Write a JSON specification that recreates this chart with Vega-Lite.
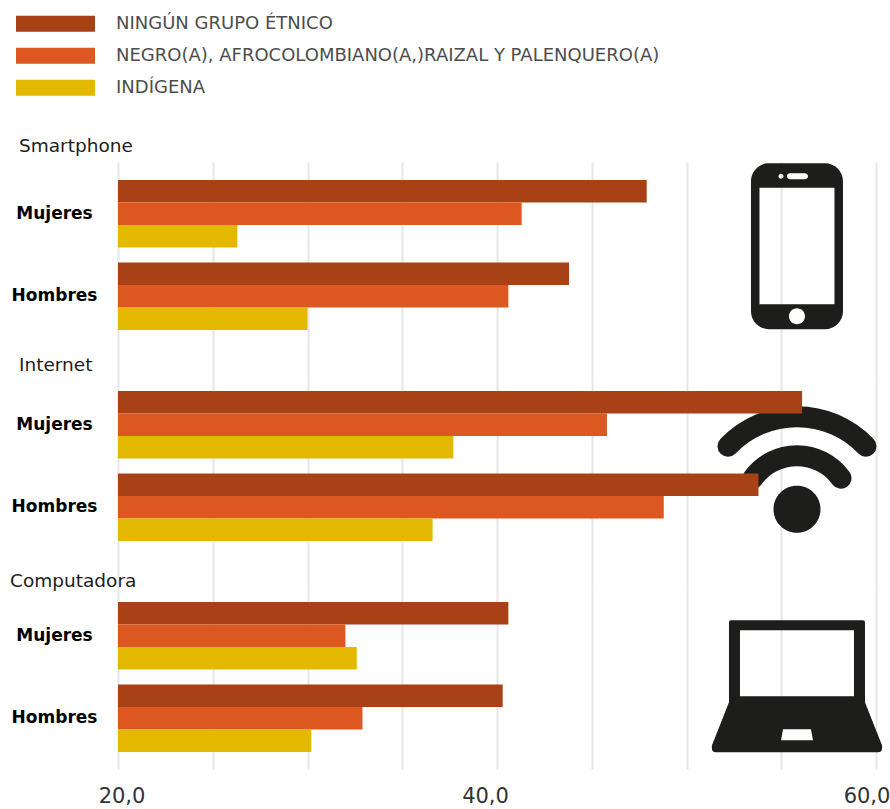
{
"$schema":"https://vega.github.io/schema/vega-lite/v6.json",
"background":"white",
"padding":{"left":10,"top":8,"right":0,"bottom":0},
"bounds":"flush",
"spacing":0,
"data":{"values":[
{"tecnologia":"Smartphone","sexo":"Mujeres","etnia":"NINGÚN GRUPO ÉTNICO","valor":47.9},
{"tecnologia":"Smartphone","sexo":"Mujeres","etnia":"NEGRO(A), AFROCOLOMBIANO(A,)RAIZAL Y PALENQUERO(A)","valor":41.3},
{"tecnologia":"Smartphone","sexo":"Mujeres","etnia":"INDÍGENA","valor":26.3},
{"tecnologia":"Smartphone","sexo":"Hombres","etnia":"NINGÚN GRUPO ÉTNICO","valor":43.8},
{"tecnologia":"Smartphone","sexo":"Hombres","etnia":"NEGRO(A), AFROCOLOMBIANO(A,)RAIZAL Y PALENQUERO(A)","valor":40.6},
{"tecnologia":"Smartphone","sexo":"Hombres","etnia":"INDÍGENA","valor":30.0},
{"tecnologia":"Internet","sexo":"Mujeres","etnia":"NINGÚN GRUPO ÉTNICO","valor":56.1},
{"tecnologia":"Internet","sexo":"Mujeres","etnia":"NEGRO(A), AFROCOLOMBIANO(A,)RAIZAL Y PALENQUERO(A)","valor":45.8},
{"tecnologia":"Internet","sexo":"Mujeres","etnia":"INDÍGENA","valor":37.7},
{"tecnologia":"Internet","sexo":"Hombres","etnia":"NINGÚN GRUPO ÉTNICO","valor":53.8},
{"tecnologia":"Internet","sexo":"Hombres","etnia":"NEGRO(A), AFROCOLOMBIANO(A,)RAIZAL Y PALENQUERO(A)","valor":48.8},
{"tecnologia":"Internet","sexo":"Hombres","etnia":"INDÍGENA","valor":36.6},
{"tecnologia":"Computadora","sexo":"Mujeres","etnia":"NINGÚN GRUPO ÉTNICO","valor":40.6},
{"tecnologia":"Computadora","sexo":"Mujeres","etnia":"NEGRO(A), AFROCOLOMBIANO(A,)RAIZAL Y PALENQUERO(A)","valor":32.0},
{"tecnologia":"Computadora","sexo":"Mujeres","etnia":"INDÍGENA","valor":32.6},
{"tecnologia":"Computadora","sexo":"Hombres","etnia":"NINGÚN GRUPO ÉTNICO","valor":40.3},
{"tecnologia":"Computadora","sexo":"Hombres","etnia":"NEGRO(A), AFROCOLOMBIANO(A,)RAIZAL Y PALENQUERO(A)","valor":32.9},
{"tecnologia":"Computadora","sexo":"Hombres","etnia":"INDÍGENA","valor":30.2}
]},
"config":{
"view":{"stroke":null},
"title":{"font":"DejaVu Sans","fontSize":18.5,"fontWeight":"normal","color":"#1d1d1b","anchor":"start","frame":"group","baseline":"bottom"},
"axisY":{"title":null,"domain":false,"ticks":false,"grid":false,"labelAlign":"center","labelPadding":64,"labelFont":"DejaVu Sans","labelFontWeight":"bold","labelFontSize":17,"labelColor":"#000000"},
"axisX":{"title":null,"domain":false,"ticks":false,"grid":true,"gridColor":"#e6e6e6","gridWidth":2,"labels":false},
"legend":{"title":null,"orient":"none","legendX":-102,"legendY":-154,"symbolType":"M-1,-0.2025H1V0.2025H-1Z","symbolSize":6241,"clipHeight":31.5,"rowPadding":0,"labelFont":"DejaVu Sans","labelFontSize":18,"labelColor":"#4d4d4d","labelLimit":700,"labelOffset":21,"symbolOpacity":1,"symbolStrokeWidth":0}
},
"vconcat":[
{"width":758,"height":217,
"title":{"text":"Smartphone","dx":-99,"offset":7},
"layer":[
{"data":{"values":[{"icono":"Smartphone","valor":55.83,"sexo":"Mujeres"}]},
"mark":{"type":"point","filled":true,"opacity":1,"color":"#1d1d1b","size":4,"shape":"M-28,-50.5H28A18,18 0 0 1 46,-32.5V97.5A18,18 0 0 1 28,115.5H-28A18,18 0 0 1 -46,97.5V-32.5A18,18 0 0 1 -28,-50.5ZM-37.5,-26V90.5H37.5V-26ZM-7,-40.5A3,3 0 0 0 -7,-34.5H8A3,3 0 0 0 8,-40.5ZM-18.5,-37.5A2.5,2.5 0 1 0 -13.5,-37.5A2.5,2.5 0 1 0 -18.5,-37.5ZM-8,102.5A8,8 0 1 0 8,102.5A8,8 0 1 0 -8,102.5Z"},
"encoding":{"x":{"field":"valor","type":"quantitative","scale":{"domain":[20,60],"zero":false,"nice":false},"axis":{"values":[20,25,30,35,40,45,50,55,60]}},"y":{"field":"sexo","type":"nominal"}}},
{"transform":[{"filter":"datum.tecnologia=='Smartphone'"}],
"mark":{"type":"bar"},
"encoding":{
"x":{"field":"valor","type":"quantitative","scale":{"domain":[20,60],"zero":false,"nice":false}},
"x2":{"datum":20},
"y":{"field":"sexo","type":"nominal","sort":null,"scale":{"domain":["Mujeres","Hombres"],"paddingInner":0.1818,"paddingOuter":0.406,"align":0.2687}},
"yOffset":{"field":"etnia","type":"nominal","sort":null,"scale":{"domain":["NINGÚN GRUPO ÉTNICO","NEGRO(A), AFROCOLOMBIANO(A,)RAIZAL Y PALENQUERO(A)","INDÍGENA"]}},
"color":{"field":"etnia","type":"nominal","scale":{"domain":["NINGÚN GRUPO ÉTNICO","NEGRO(A), AFROCOLOMBIANO(A,)RAIZAL Y PALENQUERO(A)","INDÍGENA"],"range":["#a84216","#dd5720","#e3b900"]}}
}}
]},
{"width":758,"height":211,
"title":{"text":"Internet","dx":-99,"offset":0},
"layer":[
{"data":{"values":[{"icono":"Internet","valor":55.83,"sexo":"Hombres"}]},
"mark":{"type":"point","filled":false,"fill":null,"opacity":1,"stroke":"#1d1d1b","strokeWidth":21,"strokeCap":"round","size":4,"shape":"M-69,-61A95.4,95.4 0 0 1 69,-61M-44,-29A54.3,54.3 0 0 1 44,-29"},
"encoding":{"x":{"field":"valor","type":"quantitative","scale":{"domain":[20,60],"zero":false,"nice":false},"axis":{"values":[20,25,30,35,40,45,50,55,60]}},"y":{"field":"sexo","type":"nominal"}}},
{"data":{"values":[{"icono":"Internet","valor":55.83,"sexo":"Hombres"}]},
"mark":{"type":"point","filled":true,"opacity":1,"color":"#1d1d1b","size":4,"shape":"M-23.5,2A23.5,23.5 0 1 0 23.5,2A23.5,23.5 0 1 0 -23.5,2Z"},
"encoding":{"x":{"field":"valor","type":"quantitative","scale":{"domain":[20,60],"zero":false,"nice":false}},"y":{"field":"sexo","type":"nominal"}}},
{"transform":[{"filter":"datum.tecnologia=='Internet'"}],
"mark":{"type":"bar"},
"encoding":{
"x":{"field":"valor","type":"quantitative","scale":{"domain":[20,60],"zero":false,"nice":false}},
"x2":{"datum":20},
"y":{"field":"sexo","type":"nominal","sort":null,"scale":{"domain":["Mujeres","Hombres"],"paddingInner":0.1818,"paddingOuter":0.3697,"align":0.1967}},
"yOffset":{"field":"etnia","type":"nominal","sort":null,"scale":{"domain":["NINGÚN GRUPO ÉTNICO","NEGRO(A), AFROCOLOMBIANO(A,)RAIZAL Y PALENQUERO(A)","INDÍGENA"]}},
"color":{"field":"etnia","type":"nominal","scale":{"domain":["NINGÚN GRUPO ÉTNICO","NEGRO(A), AFROCOLOMBIANO(A,)RAIZAL Y PALENQUERO(A)","INDÍGENA"],"range":["#a84216","#dd5720","#e3b900"]}}
}}
]},
{"width":758,"height":179,
"title":{"text":"Computadora","dx":-108,"offset":0},
"layer":[
{"data":{"values":[{"icono":"Computadora","valor":55.83,"sexo":"Hombres"}]},
"mark":{"type":"point","filled":true,"opacity":1,"color":"#1d1d1b","size":4,"shape":"M-66,-98H66Q68,-98 68,-96V-16L85,27Q86,34 81,34H-81Q-86,34 -85,27L-68,-16V-96Q-68,-98 -66,-98ZM-57,-88V-22H57V-88ZM-14,11L-16,22H16L14,11Z"},
"encoding":{"x":{"field":"valor","type":"quantitative","scale":{"domain":[20,60],"zero":false,"nice":false},
"axis":{"values":[20,25,30,35,40,45,50,55,60],"labels":true,"labelFont":"DejaVu Sans","labelFontSize":21,"labelColor":"#333333","labelOverlap":false,"labelFlush":false,"labelPadding":16,"labelExpr":"datum.value % 20 == 0 ? replace(format(datum.value,'.1f'),'.',',') : ''","labelOffset":{"condition":[{"test":"datum.value == 20","value":3.5},{"test":"datum.value == 40","value":-12}],"value":-9.5}}},"y":{"field":"sexo","type":"nominal"}}},
{"transform":[{"filter":"datum.tecnologia=='Computadora'"}],
"mark":{"type":"bar"},
"encoding":{
"x":{"field":"valor","type":"quantitative","scale":{"domain":[20,60],"zero":false,"nice":false}},
"x2":{"datum":20},
"y":{"field":"sexo","type":"nominal","sort":null,"scale":{"domain":["Mujeres","Hombres"],"paddingInner":0.1818,"paddingOuter":0.1758,"align":0.4138}},
"yOffset":{"field":"etnia","type":"nominal","sort":null,"scale":{"domain":["NINGÚN GRUPO ÉTNICO","NEGRO(A), AFROCOLOMBIANO(A,)RAIZAL Y PALENQUERO(A)","INDÍGENA"]}},
"color":{"field":"etnia","type":"nominal","scale":{"domain":["NINGÚN GRUPO ÉTNICO","NEGRO(A), AFROCOLOMBIANO(A,)RAIZAL Y PALENQUERO(A)","INDÍGENA"],"range":["#a84216","#dd5720","#e3b900"]}}
}}
]}
]
}
